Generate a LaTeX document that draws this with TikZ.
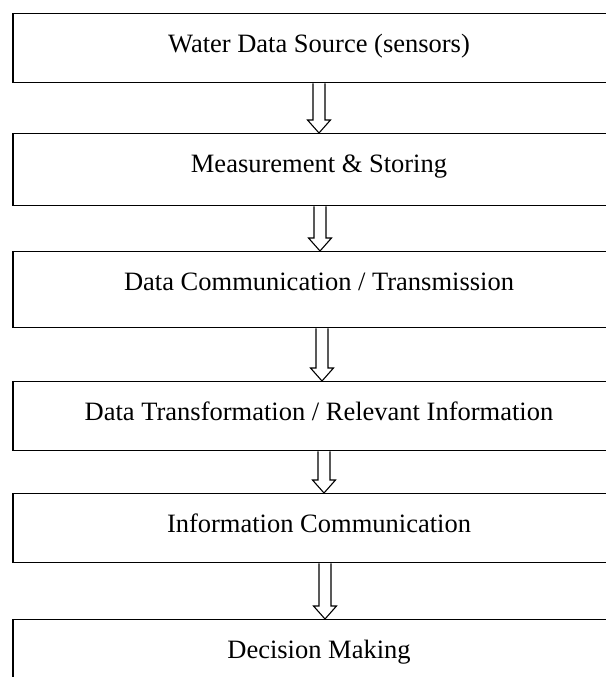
\documentclass[tikz,border=0pt]{standalone}
\usepackage{fontspec}
\setmainfont{Liberation Serif}
\usetikzlibrary{calc}

\tikzset{
  stagebox/.style={draw=black, line width=1.3pt, anchor=north, minimum width=612,
    inner sep=0pt, text height=39, text depth=#1-39, font=\fontsize{26.5}{32}\selectfont},
  hollowarrow/.style={draw=black, line width=1.1pt, line join=miter}
}

% hollow down arrow from box #1 to box #2, shifted by #3
\newcommand{\stagearrow}[3]{%
  \draw[hollowarrow] ($(#1.south)+(#3-6,0)$) -- ($(#2.north)+(#3-6,13)$)
    -- ($(#2.north)+(#3-11.5,13)$) -- ($(#2.north)+(#3,0)$)
    -- ($(#2.north)+(#3+11.5,13)$) -- ($(#2.north)+(#3+6,13)$)
    -- ($(#1.south)+(#3+6,0)$);
}

\begin{document}
\begin{tikzpicture}[x=1pt, y=1pt]
  \useasboundingbox (0,0) rectangle (605,-677);

  % stages
  \node[stagebox=69] (source) at (319,-13) {Water Data Source (sensors)};
  \node[stagebox=72] (store) at (319,-133) {Measurement \& Storing};
  \node[stagebox=76] (comm) at (319,-251) {Data Communication / Transmission};
  \node[stagebox=69] (transf) at (319,-381) {Data Transformation / Relevant Information};
  \node[stagebox=69] (infocomm) at (319,-493) {Information Communication};
  \node[stagebox=71] (decision) at (319,-619) {Decision Making};

  % arrows
  \stagearrow{source}{store}{0}
  \stagearrow{store}{comm}{1}
  \stagearrow{comm}{transf}{3}
  \stagearrow{transf}{infocomm}{5}
  \stagearrow{infocomm}{decision}{6}

\end{tikzpicture}
\end{document}
